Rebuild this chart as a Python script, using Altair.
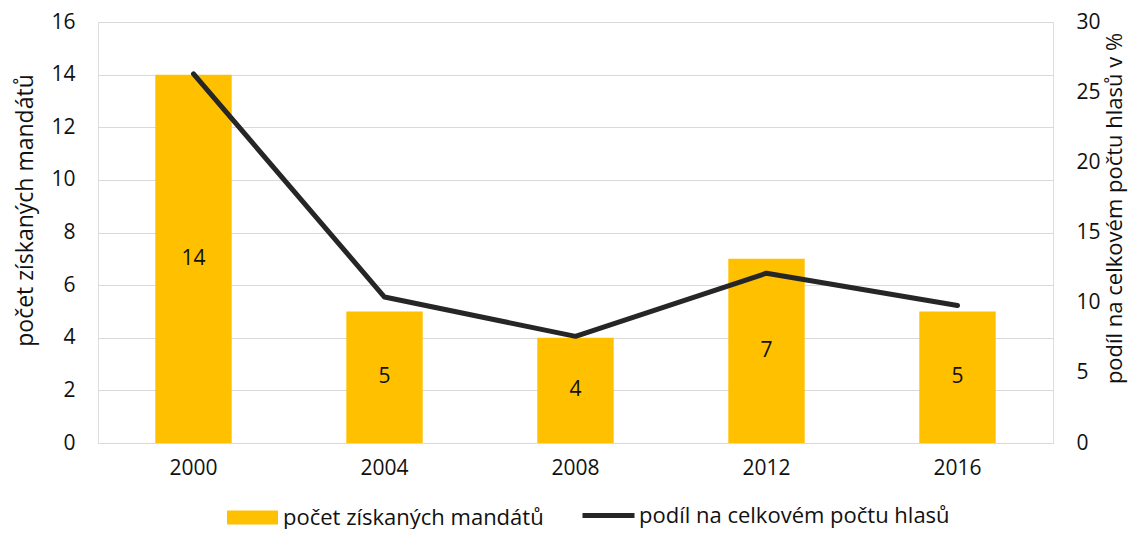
import altair as alt
import pandas as pd

years = ["2000", "2004", "2008", "2012", "2016"]
seats = [14, 5, 4, 7, 5]
share = [26.3, 10.4, 7.6, 12.1, 9.8]

bar_label = "počet získaných mandátů"
line_label = "podíl na celkovém počtu hlasů"
left_title = "počet získaných mandátů"
right_title = "podíl na celkovém počtu hlasů v %"

df = pd.DataFrame({"year": years, "seats": seats, "share": share})
df["mid"] = df["seats"] / 2
df["s1"] = bar_label
df["s2"] = line_label

FONT = "Open Sans"
FS = 21
TXT = "#111111"

base = alt.Chart(df)

xenc = alt.X("year:N", title=None,
             scale=alt.Scale(paddingInner=0.6, paddingOuter=0.3),
             axis=alt.Axis(labelAngle=0, ticks=False, labelPadding=14,
                           domainColor="#d9d9d9", labelFontSize=FS,
                           labelColor=TXT, labelFont=FONT))

bars = base.mark_bar(color="#FFC000").encode(
    x=xenc,
    y=alt.Y("seats:Q", title=left_title,
            scale=alt.Scale(domain=[0, 16], nice=False),
            axis=alt.Axis(orient="left", values=list(range(0, 17, 2)), grid=True,
                          gridColor="#d9d9d9", domain=False, ticks=False,
                          labelPadding=23, titlePadding=13, titleY=188,
                          labelFontSize=FS, titleFontSize=23,
                          titleFontWeight="normal",
                          labelColor=TXT, titleColor=TXT, labelFont=FONT,
                          titleFont=FONT)),
    color=alt.Color("s1:N", scale=alt.Scale(range=["#FFC000"]),
                    legend=alt.Legend(title=None, orient="none", legendX=129,
                                      legendY=470, padding=0,
                                      symbolType="M-1,-0.27H1V0.27H-1Z",
                                      symbolSize=2601, symbolStrokeWidth=0,
                                      labelFontSize=22, labelFont=FONT,
                                      labelColor=TXT, labelOffset=5,
                                      labelLimit=500)),
)

texts = base.mark_text(fontSize=FS, font=FONT, color=TXT).encode(
    x=alt.X("year:N"),
    y=alt.Y("mid:Q"),
    text=alt.Text("seats:Q"),
)

line = base.mark_line(strokeWidth=5, strokeCap="round", strokeJoin="round").encode(
    x=alt.X("year:N"),
    y=alt.Y("share:Q", title=right_title,
            scale=alt.Scale(domain=[0, 30], nice=False),
            axis=alt.Axis(orient="right", values=list(range(0, 31, 5)), grid=False,
                          domain=False, ticks=False, labelPadding=23,
                          titlePadding=4, titleAngle=270, titleBaseline="top",
                          titleY=186,
                          labelFontSize=FS, titleFontSize=22,
                          titleFontWeight="normal", labelColor=TXT,
                          titleColor=TXT, labelFont=FONT, titleFont=FONT)),
    stroke=alt.Stroke("s2:N", scale=alt.Scale(range=["#262626"]),
                      legend=alt.Legend(title=None, orient="none", legendX=482,
                                        legendY=465, padding=0,
                                        symbolType="stroke", symbolSize=2704,
                                        symbolStrokeWidth=5, labelFontSize=22,
                                        labelFont=FONT, labelColor=TXT,
                                        labelOffset=2, labelLimit=500)),
)

chart = alt.layer(alt.layer(bars, texts), line).resolve_scale(
    y="independent", color="independent", stroke="independent"
).properties(
    width=955, height=421,
    autosize=alt.AutoSizeParams(type="none"),
    padding={"left": 90, "top": 14, "right": 75, "bottom": 86},
).configure_view(stroke=None).configure(background="white")

chart.save("out.html", embed_options={"renderer": "svg", "actions": False})
